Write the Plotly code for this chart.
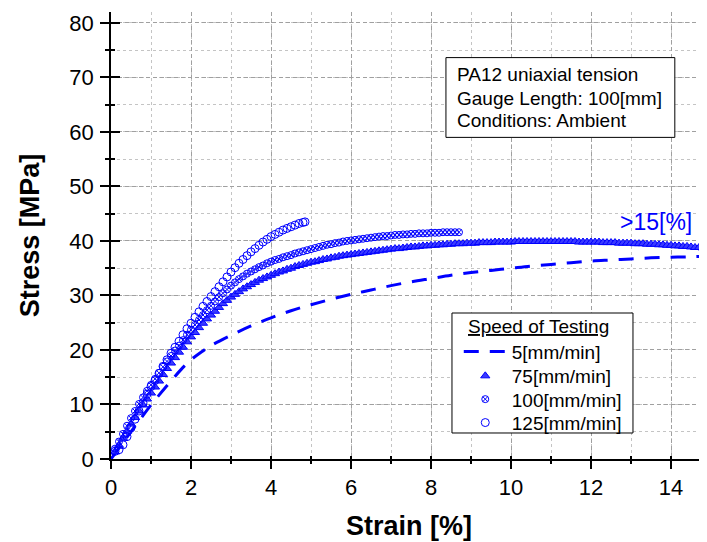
import plotly.graph_objects as go

# ---------------- data ----------------
strain_5 = [0, 0.5, 1.0, 1.5, 1.75, 2.0, 2.25, 2.5, 3.0, 3.5, 4.0, 4.5, 5.0, 5.5, 6.0, 6.5, 7.0, 7.5,
            8.0, 8.5, 9.0, 9.5, 10.0, 10.5, 11.0, 11.5, 12.0, 12.5, 13.0, 13.5, 14.0, 14.5, 14.9]
stress_5 = [0, 5.0, 9.9, 14.3, 16.4, 18.2, 19.6, 20.8, 22.7, 24.4, 25.9, 27.2, 28.3, 29.3, 30.2, 31.0, 31.8, 32.5,
            33.1, 33.7, 34.2, 34.6, 35.0, 35.4, 35.7, 36.0, 36.3, 36.5, 36.7, 36.9, 37.0, 37.1, 37.2]

strain_75 = [0.1, 0.2, 0.3, 0.4, 0.5, 0.6, 0.7, 0.8, 0.9, 1.0,
             1.1, 1.2, 1.3, 1.4, 1.5, 1.6, 1.7, 1.8, 1.9, 2.0,
             2.1, 2.2, 2.3, 2.4, 2.5, 2.6, 2.7, 2.8, 2.9, 3.0,
             3.1, 3.2, 3.3, 3.4, 3.5, 3.6, 3.7, 3.8, 3.9, 4.0,
             4.1, 4.2, 4.3, 4.4, 4.5, 4.6, 4.7, 4.8, 4.9, 5.0,
             5.1, 5.2, 5.3, 5.4, 5.5, 5.6, 5.7, 5.8, 5.9, 6.0,
             6.1, 6.2, 6.3, 6.4, 6.5, 6.6, 6.7, 6.8, 6.9, 7.0,
             7.1, 7.2, 7.3, 7.4, 7.5, 7.6, 7.7, 7.8, 7.9, 8.0,
             8.1, 8.2, 8.3, 8.4, 8.5, 8.6, 8.7, 8.8, 8.9, 9.0,
             9.1, 9.2, 9.3, 9.4, 9.5, 9.6, 9.7, 9.8, 9.9, 10.0,
             10.1, 10.2, 10.3, 10.4, 10.5, 10.6, 10.7, 10.8, 10.9, 11.0,
             11.1, 11.2, 11.3, 11.4, 11.5, 11.6, 11.7, 11.8, 11.9, 12.0,
             12.1, 12.2, 12.3, 12.4, 12.5, 12.6, 12.7, 12.8, 12.9, 13.0,
             13.1, 13.2, 13.3, 13.4, 13.5, 13.6, 13.7, 13.8, 13.9, 14.0,
             14.1, 14.2, 14.3, 14.4, 14.5, 14.6, 14.7, 14.8, 14.9]
stress_75 = [1.3, 2.5, 3.8, 5.1, 6.4, 7.6, 8.8, 9.9, 11.0, 12.1,
             13.2, 14.3, 15.5, 16.6, 17.6, 18.6, 19.6, 20.5, 21.5, 22.4,
             23.2, 24.1, 24.9, 25.7, 26.4, 27.1, 27.8, 28.5, 29.1, 29.7,
             30.2, 30.7, 31.2, 31.6, 32.0, 32.4, 32.8, 33.1, 33.4, 33.7,
             34.0, 34.3, 34.5, 34.8, 35.0, 35.3, 35.5, 35.7, 35.9, 36.1,
             36.2, 36.4, 36.6, 36.7, 36.9, 37.0, 37.2, 37.3, 37.4, 37.5,
             37.6, 37.7, 37.8, 37.9, 38.0, 38.1, 38.2, 38.3, 38.4, 38.5,
             38.6, 38.6, 38.7, 38.8, 38.9, 38.9, 39.0, 39.1, 39.1, 39.2,
             39.2, 39.3, 39.3, 39.4, 39.4, 39.5, 39.5, 39.5, 39.6, 39.6,
             39.6, 39.7, 39.7, 39.7, 39.7, 39.8, 39.8, 39.8, 39.8, 39.8,
             39.9, 39.9, 39.9, 39.9, 39.9, 39.9, 39.9, 39.9, 39.9, 39.9,
             39.9, 39.9, 39.9, 39.9, 39.9, 39.9, 39.8, 39.8, 39.8, 39.8,
             39.8, 39.8, 39.7, 39.7, 39.7, 39.7, 39.6, 39.6, 39.6, 39.6,
             39.5, 39.5, 39.5, 39.4, 39.4, 39.4, 39.3, 39.3, 39.2, 39.2,
             39.1, 39.1, 39.0, 39.0, 38.9, 38.8, 38.8, 38.7, 38.6]

strain_100 = [0.1, 0.2, 0.3, 0.4, 0.5, 0.6, 0.7, 0.8, 0.9, 1.0,
              1.1, 1.2, 1.3, 1.4, 1.5, 1.6, 1.7, 1.8, 1.9, 2.0,
              2.1, 2.2, 2.3, 2.4, 2.5, 2.6, 2.7, 2.8, 2.9, 3.0,
              3.1, 3.2, 3.3, 3.4, 3.5, 3.6, 3.7, 3.8, 3.9, 4.0,
              4.1, 4.2, 4.3, 4.4, 4.5, 4.6, 4.7, 4.8, 4.9, 5.0,
              5.1, 5.2, 5.3, 5.4, 5.5, 5.6, 5.7, 5.8, 5.9, 6.0,
              6.1, 6.2, 6.3, 6.4, 6.5, 6.6, 6.7, 6.8, 6.9, 7.0,
              7.1, 7.2, 7.3, 7.4, 7.5, 7.6, 7.7, 7.8, 7.9, 8.0,
              8.1, 8.2, 8.3, 8.4, 8.5, 8.6, 8.7]
stress_100 = [1.9, 3.2, 4.6, 6.1, 7.5, 8.8, 10.1, 11.3, 12.5, 13.6,
              14.7, 15.8, 16.9, 17.9, 18.9, 19.9, 20.8, 21.8, 22.8, 23.7,
              24.6, 25.5, 26.4, 27.3, 28.1, 28.9, 29.7, 30.4, 31.1, 31.8,
              32.4, 33.0, 33.5, 34.0, 34.4, 34.8, 35.2, 35.5, 35.9, 36.2,
              36.5, 36.7, 37.0, 37.2, 37.4, 37.7, 37.9, 38.1, 38.3, 38.5,
              38.7, 38.9, 39.1, 39.3, 39.4, 39.6, 39.7, 39.9, 40.0, 40.1,
              40.2, 40.3, 40.4, 40.5, 40.6, 40.7, 40.8, 40.9, 40.9, 41.0,
              41.1, 41.1, 41.2, 41.2, 41.3, 41.3, 41.4, 41.4, 41.4, 41.5,
              41.5, 41.5, 41.6, 41.6, 41.6, 41.6, 41.6]

strain_125 = [0.1, 0.2, 0.3, 0.4, 0.5, 0.6, 0.7, 0.8, 0.9, 1.0,
              1.1, 1.2, 1.3, 1.4, 1.5, 1.6, 1.7, 1.8, 1.9, 2.0,
              2.1, 2.2, 2.3, 2.4, 2.5, 2.6, 2.7, 2.8, 2.9, 3.0,
              3.1, 3.2, 3.3, 3.4, 3.5, 3.6, 3.7, 3.8, 3.9, 4.0,
              4.1, 4.2, 4.3, 4.4, 4.5, 4.6, 4.7, 4.8, 4.85]
stress_125 = [1.4, 1.7, 2.6, 4.1, 5.7, 7.3, 8.8, 10.3, 11.9, 13.3,
              14.4, 15.7, 17.0, 18.2, 19.4, 20.5, 21.6, 22.8, 23.9, 24.9,
              26.0, 27.0, 28.0, 28.9, 29.8, 30.7, 31.6, 32.5, 33.4, 34.3,
              35.1, 35.9, 36.6, 37.3, 38.0, 38.6, 39.2, 39.8, 40.3, 40.8,
              41.2, 41.6, 42.0, 42.3, 42.6, 42.9, 43.2, 43.4, 43.5]

series_names = ["5[mm/min]", "75[mm/min]", "100[mm/min]", "125[mm/min]"]
legend_title = "Speed of Testing"
info_lines = ["PA12 uniaxial tension", "Gauge Length: 100[mm]", "Conditions: Ambient"]
x_ticks = [0, 2, 4, 6, 8, 10, 12, 14]
y_ticks = [0, 10, 20, 30, 40, 50, 60, 70, 80]

# ---------------- figure ----------------
BLUE = "#0000FF"
FONT = "Liberation Sans, Arial, sans-serif"

fig = go.Figure()
fig.add_trace(go.Scatter(x=strain_5, y=stress_5, mode="lines", name=series_names[0], legend="legend",
                         line=dict(color=BLUE, width=3, dash="15px,11px"), line_shape="spline"))
fig.add_trace(go.Scatter(x=strain_75, y=stress_75, mode="markers", name=series_names[1], legend="legend2",
                         marker=dict(symbol="triangle-up", size=8, color="#3a3aff",
                                     line=dict(color=BLUE, width=1))))
fig.add_trace(go.Scatter(x=strain_100, y=stress_100, mode="markers", name=series_names[2], legend="legend3",
                         marker=dict(symbol="circle-x-open", size=7, color=BLUE,
                                     line=dict(color=BLUE, width=1))))
fig.add_trace(go.Scatter(x=strain_125, y=stress_125, mode="markers", name=series_names[3], legend="legend4",
                         marker=dict(symbol="circle-open", size=8, color=BLUE,
                                     line=dict(color=BLUE, width=1))))
# helper trace for the overlay axes (inner half of the crossing ticks)
fig.add_trace(go.Scatter(x=[], y=[], xaxis="x2", yaxis="y2", showlegend=False, hoverinfo="skip"))

XR = [0, 14.9]
YR = [0, 82]


def leg(yp):
    return dict(x=0.5835, y=yp, xanchor="left", yanchor="middle", itemwidth=43,
                bgcolor="rgba(0,0,0,0)", borderwidth=0,
                font=dict(family=FONT, size=19, color="black"))


# the page body has an 8 px margin, so the figure is 8 px smaller and its
# margins are 8 px smaller on the left/top to fill the 707x542 window
fig.update_layout(
    width=699, height=534,
    margin=dict(l=103, r=0, t=4, b=83, autoexpand=False),
    paper_bgcolor="white", plot_bgcolor="white",
    font=dict(family=FONT, color="black", size=22),
    showlegend=True,
    legend=leg(0.240), legend2=leg(0.1857), legend3=leg(0.1336), legend4=leg(0.0812),
    xaxis=dict(
        range=XR, tickvals=x_ticks, showline=True, linecolor="black", linewidth=1.5,
        ticks="outside", ticklen=8, tickwidth=1.5, tickcolor="black",
        ticklabelstandoff=0, automargin=False,
        tickfont=dict(family=FONT, size=22, color="black"),
        showgrid=True, gridcolor="#a0a0a0", gridwidth=1, griddash="4px,3px",
        zeroline=False,
        minor=dict(dtick=1, ticks="outside", ticklen=3, tickwidth=1.5, tickcolor="black",
                   showgrid=True, gridcolor="#c4c4c4", gridwidth=1, griddash="dot"),
        title=dict(text="<b>Strain [%]</b>", font=dict(family=FONT, size=27, color="black"),
                   standoff=17),
    ),
    yaxis=dict(
        range=YR, tickvals=y_ticks, showline=True, linecolor="black", linewidth=1.5,
        ticks="outside", ticklen=9, tickwidth=1.5, tickcolor="black",
        ticklabelstandoff=2, automargin=False,
        tickfont=dict(family=FONT, size=22, color="black"),
        showgrid=True, gridcolor="#a0a0a0", gridwidth=1, griddash="4px,3px",
        zeroline=False,
        minor=dict(dtick=5, ticks="outside", ticklen=4, tickwidth=1.5, tickcolor="black",
                   showgrid=True, gridcolor="#c4c4c4", gridwidth=1, griddash="dot"),
        title=dict(text="<b>Stress [MPa]</b>", font=dict(family=FONT, size=27, color="black"),
                   standoff=22),
    ),
    xaxis2=dict(
        overlaying="x", anchor="y", side="bottom", range=XR, tickvals=x_ticks,
        showticklabels=False, showline=False, showgrid=False, zeroline=False, automargin=False,
        ticks="inside", ticklen=3, tickwidth=1.5, tickcolor="black",
        minor=dict(dtick=1, ticks="inside", ticklen=3, tickwidth=1.5, tickcolor="black", showgrid=False),
    ),
    yaxis2=dict(
        overlaying="y", anchor="x", side="left", range=YR, tickvals=y_ticks,
        showticklabels=False, showline=False, showgrid=False, zeroline=False, automargin=False,
        ticks="inside", ticklen=9, tickwidth=1.5, tickcolor="black",
        minor=dict(dtick=5, ticks="inside", ticklen=4, tickwidth=1.5, tickcolor="black", showgrid=False),
    ),
)

# information box
fig.add_shape(type="rect", xref="paper", yref="paper", x0=0.562, x1=0.946, y0=0.7195, y1=0.898,
              line=dict(color="black", width=1), fillcolor="white", layer="above")
for txt, yp in zip(info_lines, [0.8597, 0.8054, 0.7568]):
    fig.add_annotation(xref="paper", yref="paper", x=0.577, y=yp, xanchor="left", yanchor="middle",
                       text=txt, showarrow=False, font=dict(family=FONT, size=19, color="black"))

# legend frame and title
fig.add_shape(type="rect", xref="paper", yref="paper", x0=0.5721, x1=0.8758, y0=0.0582, y1=0.3266,
              line=dict(color="black", width=1), fillcolor="white", layer="above")
fig.add_annotation(xref="paper", yref="paper", x=0.5956, y=0.296, xanchor="left", yanchor="middle",
                   text="<u>" + legend_title + "</u>", showarrow=False,
                   font=dict(family=FONT, size=19, color="black"))

fig.add_annotation(x=13.63, y=43.5, text=">15[%]", showarrow=False, xanchor="center", yanchor="middle",
                   font=dict(family=FONT, size=23, color=BLUE))

fig.write_html("out.html")
